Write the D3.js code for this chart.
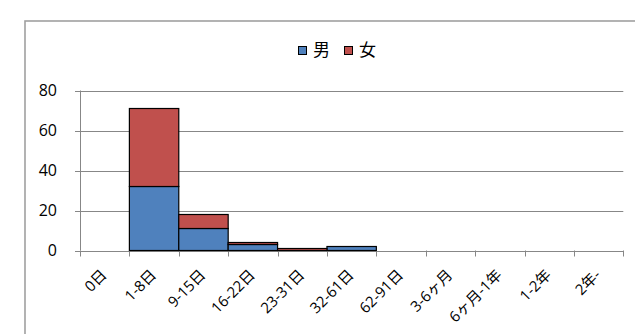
<!DOCTYPE html>
<html><head><meta charset="utf-8">
<script src="https://cdn.jsdelivr.net/npm/d3@7"></script>
<style>
html,body{margin:0;padding:0;background:#fff;}
svg text{font-family:"Open Sans","Noto Sans CJK JP",sans-serif;fill:#000;}
</style></head>
<body><svg id="c" width="635" height="334"></svg>
<script>
const categories = ["0日","1-8日","9-15日","16-22日","23-31日","32-61日","62-91日","3-6ヶ月","6ヶ月-1年","1-2年","2年-"];
const male   = [0, 32, 11, 3, 0, 2, 0, 0, 0, 0, 0];
const female = [0, 39, 7, 1, 1, 0, 0, 0, 0, 0, 0];
const seriesNames = ["男","女"];
const seriesColors = ["#4F81BD","#C0504D"];
const yTicks = [0, 20, 40, 60, 80];

const svg = d3.select("#c");
// chart frame
svg.append("rect").attr("x",25).attr("y",21).attr("width",640).attr("height",340)
  .attr("fill","#fff").attr("stroke","#a0a0a0").attr("stroke-width",1.6);

const x = d3.scaleBand().domain(categories).range([80, 623.3]).padding(0);
const y = d3.scaleLinear().domain([0, 80]).range([250.5, 90.5]);

// gridlines
svg.append("g").selectAll("line").data(yTicks).join("line")
  .attr("x1",75).attr("x2",623.3)
  .attr("y1",d=>Math.round(y(d))+0.5).attr("y2",d=>Math.round(y(d))+0.5)
  .attr("stroke","#878787").attr("stroke-width",1);

// y axis line
svg.append("line").attr("x1",80.5).attr("x2",80.5).attr("y1",y(80)).attr("y2",y(0))
  .attr("stroke","#878787");

// y labels
svg.append("g").selectAll("text").data(yTicks).join("text")
  .attr("x",57).attr("y",d=>y(d)).attr("dy","0.36em").attr("text-anchor","end")
  .style("font-size","16px").text(d=>d);

// x ticks
const bounds = categories.map(c=>x(c)).concat([x.range()[1]]);
svg.append("g").selectAll("line").data(bounds).join("line")
  .attr("x1",d=>Math.round(d)+0.5).attr("x2",d=>Math.round(d)+0.5)
  .attr("y1",y(0)).attr("y2",y(0)+6).attr("stroke","#878787");

// stacked data
const rows = categories.map((c,i)=>({cat:c, 男:male[i], 女:female[i]}));
const stack = d3.stack().keys(seriesNames)(rows);
svg.append("g").selectAll("g").data(stack).join("g")
  .attr("fill",(d,i)=>seriesColors[i])
  .selectAll("rect").data(d=>d.filter(p=>p[1]-p[0]>0)).join("rect")
  .attr("x",d=>x(d.data.cat)).attr("width",x.bandwidth())
  .attr("y",d=>y(d[1])).attr("height",d=>y(d[0])-y(d[1]))
  .attr("stroke","#000").attr("stroke-width",1.2);

// x labels
svg.append("g").selectAll("text").data(categories).join("text")
  .attr("text-anchor","end")
  .attr("transform",d=>`translate(${x(d)+x.bandwidth()/2+3},${276}) rotate(-45)`)
  .style("font-size","15px").text(d=>d);

// legend
const legX = [298, 344];
const lg = svg.append("g");
seriesNames.forEach((n,i)=>{
  lg.append("rect").attr("x",legX[i]+0.5).attr("y",46.5).attr("width",8).attr("height",8)
    .attr("fill",seriesColors[i]).attr("stroke","#000").attr("stroke-width",1);
  lg.append("text").attr("x",legX[i]+15).attr("y",50).attr("dy","0.36em")
    .style("font-size","17px").text(n);
});
</script></body></html>
